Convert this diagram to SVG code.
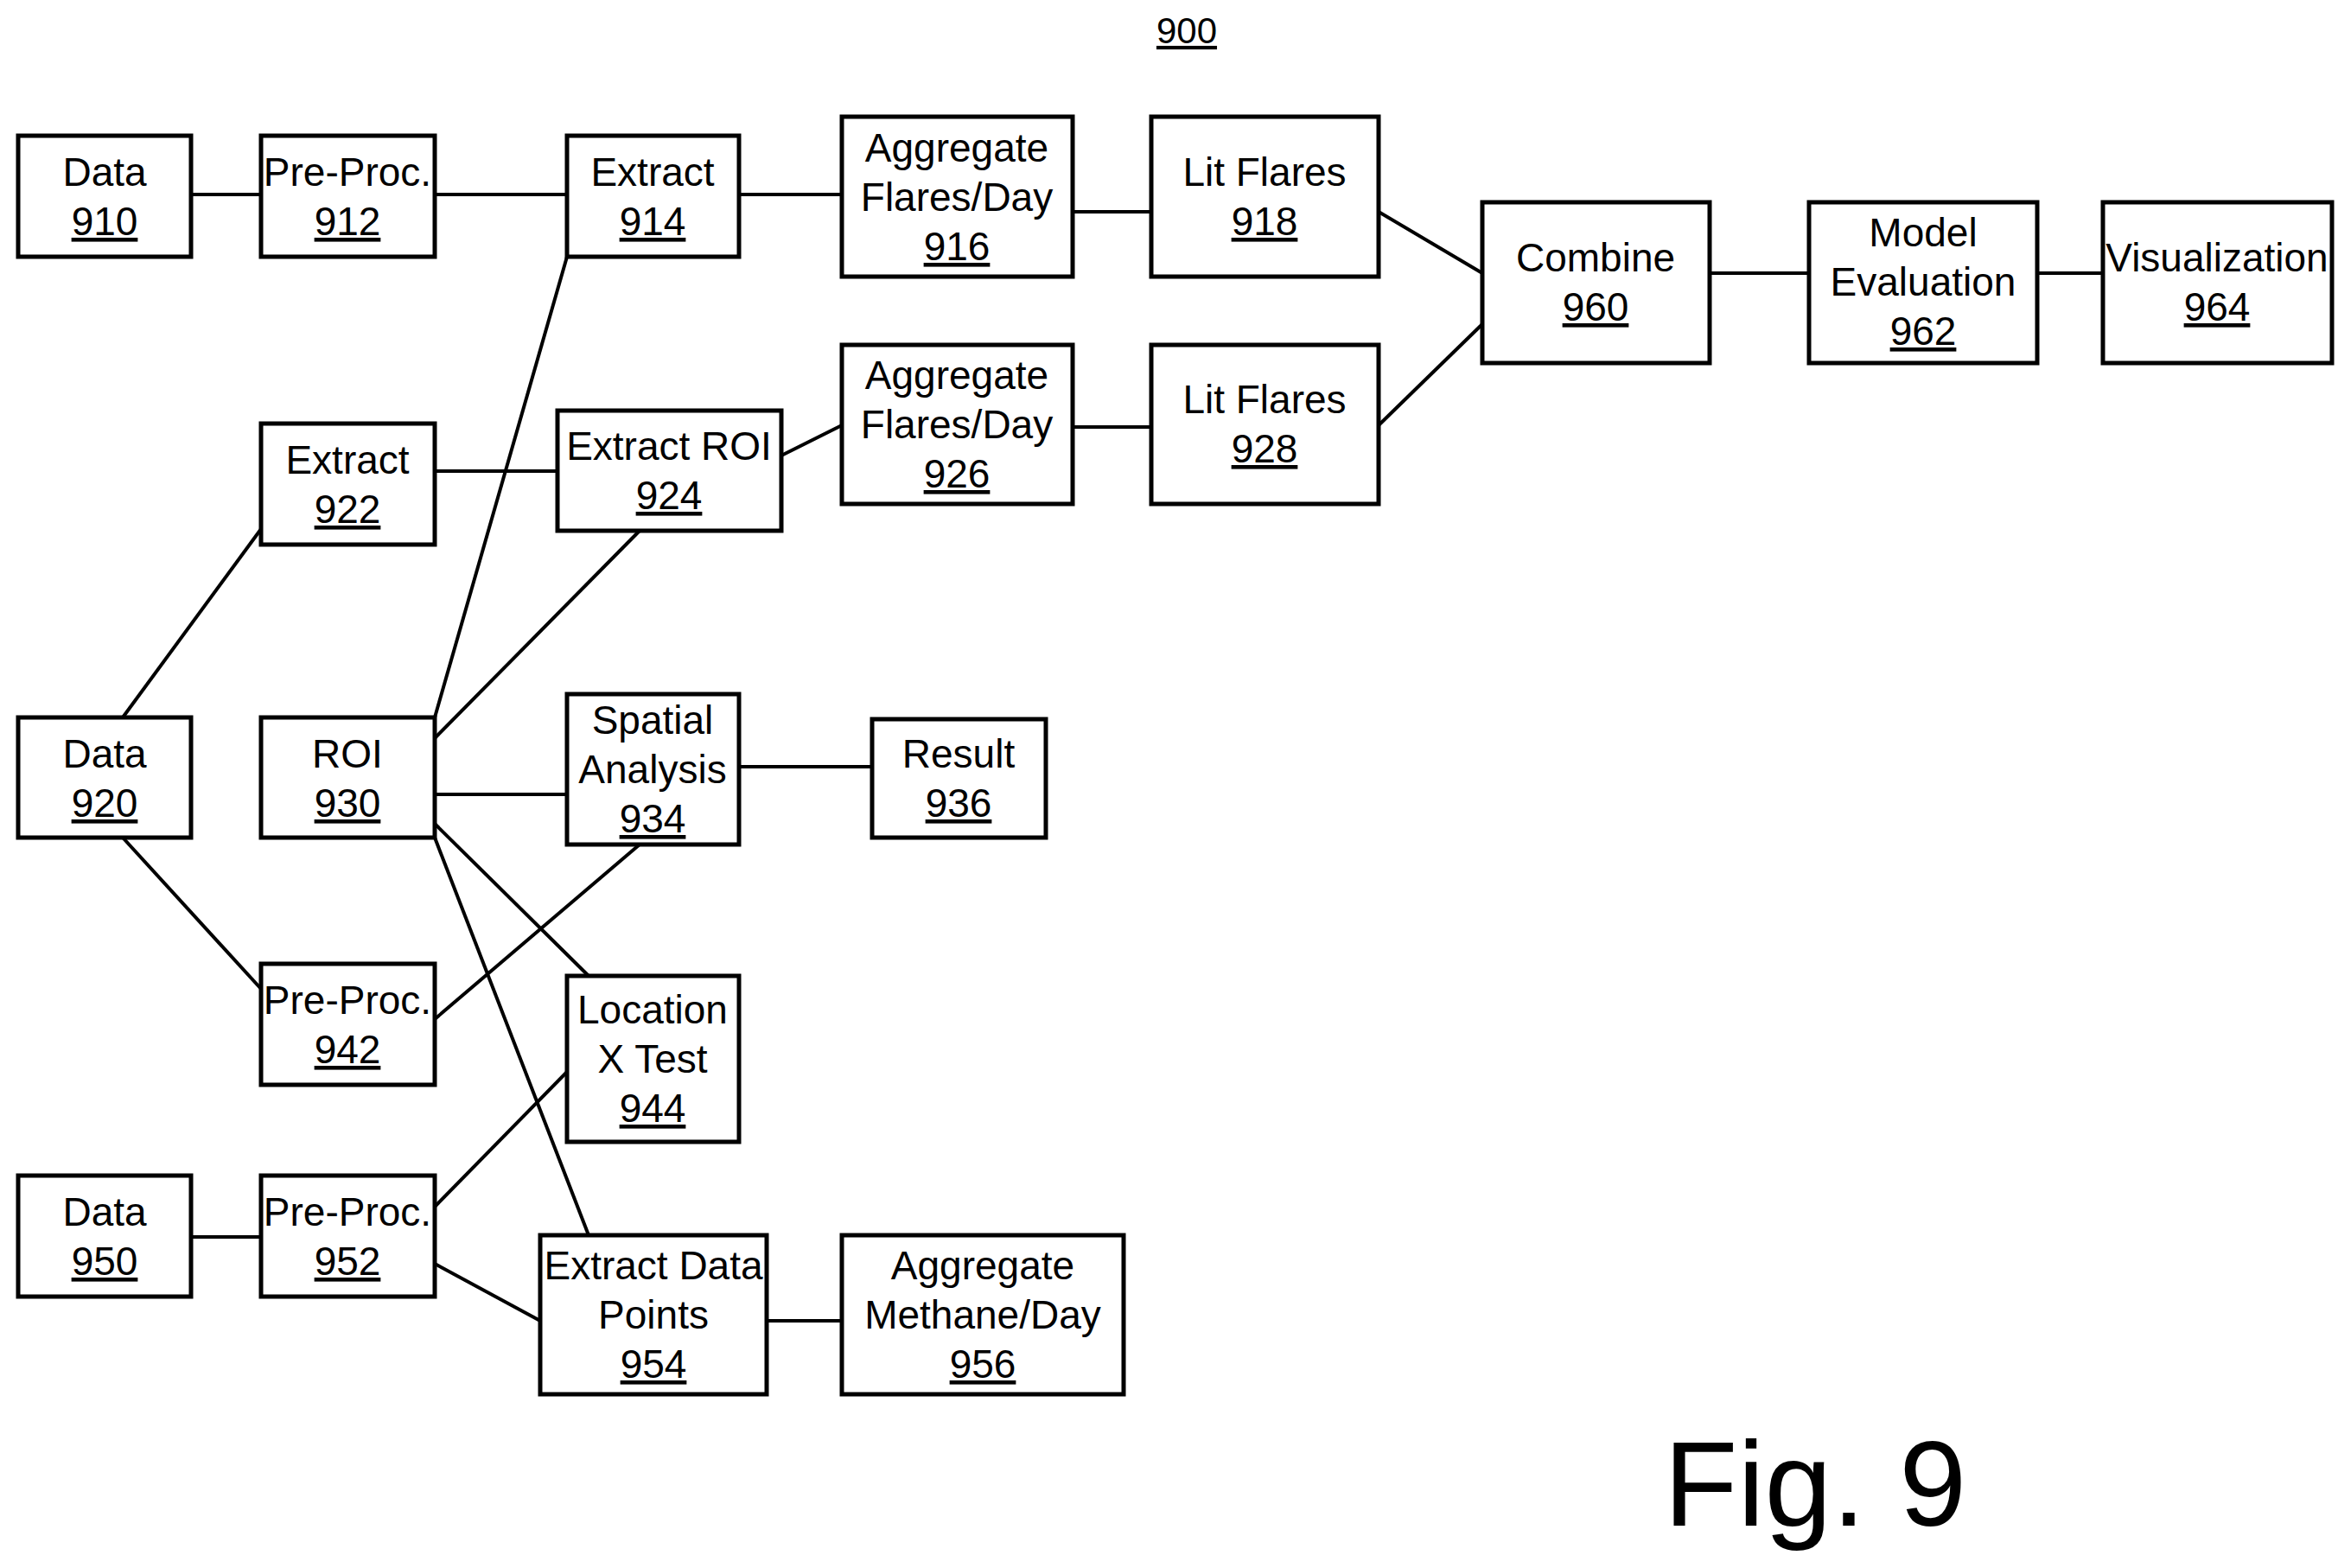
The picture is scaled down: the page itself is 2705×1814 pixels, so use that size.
<svg xmlns="http://www.w3.org/2000/svg" width="2705" height="1814" viewBox="0 0 2705 1814">
<style>
rect{fill:#fff;stroke:#000;stroke-width:5}
line{stroke:#000;stroke-width:4}
text{font-family:"Liberation Sans Narrow","Liberation Sans",Arial,sans-serif;font-size:46px;text-anchor:middle;fill:#000}
.n{text-decoration:underline}
</style>
<rect x="0" y="0" width="2705" height="1814" style="stroke:none"/>
<text x="1373" y="50" class="n" style="font-size:42px">900</text>
<text x="2100" y="1765" style="font-family:'Liberation Sans',Arial,sans-serif;font-size:140px">Fig. 9</text>
<g id="connectors">
<line x1="221" y1="225" x2="302" y2="225"/>
<line x1="503" y1="225" x2="656" y2="225"/>
<line x1="855" y1="225" x2="974" y2="225"/>
<line x1="1241" y1="245" x2="1332" y2="245"/>
<line x1="1595" y1="245" x2="1715" y2="316"/>
<line x1="1595" y1="492" x2="1715" y2="375"/>
<line x1="1978" y1="316" x2="2093" y2="316"/>
<line x1="2357" y1="316" x2="2433" y2="316"/>
<line x1="503" y1="545" x2="645" y2="545"/>
<line x1="904" y1="527" x2="974" y2="492"/>
<line x1="1241" y1="494" x2="1332" y2="494"/>
<line x1="142" y1="830" x2="302" y2="612"/>
<line x1="503" y1="830" x2="656" y2="297"/>
<line x1="503" y1="854" x2="740" y2="614"/>
<line x1="503" y1="919" x2="656" y2="919"/>
<line x1="855" y1="887" x2="1009" y2="887"/>
<line x1="503" y1="953" x2="681" y2="1129"/>
<line x1="503" y1="969" x2="681" y2="1429"/>
<line x1="142" y1="969" x2="302" y2="1144"/>
<line x1="503" y1="1179" x2="740" y2="977"/>
<line x1="503" y1="1396" x2="656" y2="1240"/>
<line x1="503" y1="1462" x2="625" y2="1528"/>
<line x1="221" y1="1431" x2="302" y2="1431"/>
<line x1="887" y1="1528" x2="974" y2="1528"/>
</g>
<g id="n910"><rect x="21" y="157" width="200" height="140"/><text x="121" y="215">Data</text><text x="121" y="272" class="n">910</text></g>
<g id="n912"><rect x="302" y="157" width="201" height="140"/><text x="402" y="215">Pre-Proc.</text><text x="402" y="272" class="n">912</text></g>
<g id="n914"><rect x="656" y="157" width="199" height="140"/><text x="755" y="215">Extract</text><text x="755" y="272" class="n">914</text></g>
<g id="n916"><rect x="974" y="135" width="267" height="185"/><text x="1107" y="187">Aggregate</text><text x="1107" y="244">Flares/Day</text><text x="1107" y="301" class="n">916</text></g>
<g id="n918"><rect x="1332" y="135" width="263" height="185"/><text x="1463" y="215">Lit Flares</text><text x="1463" y="272" class="n">918</text></g>
<g id="n960"><rect x="1715" y="234" width="263" height="186"/><text x="1846" y="314">Combine</text><text x="1846" y="371" class="n">960</text></g>
<g id="n962"><rect x="2093" y="234" width="264" height="186"/><text x="2225" y="285">Model</text><text x="2225" y="342">Evaluation</text><text x="2225" y="399" class="n">962</text></g>
<g id="n964"><rect x="2433" y="234" width="265" height="186"/><text x="2565" y="314">Visualization</text><text x="2565" y="371" class="n">964</text></g>
<g id="n922"><rect x="302" y="490" width="201" height="140"/><text x="402" y="548">Extract</text><text x="402" y="605" class="n">922</text></g>
<g id="n924"><rect x="645" y="475" width="259" height="139"/><text x="774" y="532">Extract ROI</text><text x="774" y="589" class="n">924</text></g>
<g id="n926"><rect x="974" y="399" width="267" height="184"/><text x="1107" y="450">Aggregate</text><text x="1107" y="507">Flares/Day</text><text x="1107" y="564" class="n">926</text></g>
<g id="n928"><rect x="1332" y="399" width="263" height="184"/><text x="1463" y="478">Lit Flares</text><text x="1463" y="535" class="n">928</text></g>
<g id="n920"><rect x="21" y="830" width="200" height="139"/><text x="121" y="888">Data</text><text x="121" y="945" class="n">920</text></g>
<g id="n930"><rect x="302" y="830" width="201" height="139"/><text x="402" y="888">ROI</text><text x="402" y="945" class="n">930</text></g>
<g id="n934"><rect x="656" y="803" width="199" height="174"/><text x="755" y="849">Spatial</text><text x="755" y="906">Analysis</text><text x="755" y="963" class="n">934</text></g>
<g id="n936"><rect x="1009" y="832" width="201" height="137"/><text x="1109" y="888">Result</text><text x="1109" y="945" class="n">936</text></g>
<g id="n942"><rect x="302" y="1115" width="201" height="140"/><text x="402" y="1173">Pre-Proc.</text><text x="402" y="1230" class="n">942</text></g>
<g id="n944"><rect x="656" y="1129" width="199" height="192"/><text x="755" y="1184">Location</text><text x="755" y="1241">X Test</text><text x="755" y="1298" class="n">944</text></g>
<g id="n950"><rect x="21" y="1360" width="200" height="140"/><text x="121" y="1418">Data</text><text x="121" y="1475" class="n">950</text></g>
<g id="n952"><rect x="302" y="1360" width="201" height="140"/><text x="402" y="1418">Pre-Proc.</text><text x="402" y="1475" class="n">952</text></g>
<g id="n954"><rect x="625" y="1429" width="262" height="184"/><text x="756" y="1480">Extract Data</text><text x="756" y="1537">Points</text><text x="756" y="1594" class="n">954</text></g>
<g id="n956"><rect x="974" y="1429" width="326" height="184"/><text x="1137" y="1480">Aggregate</text><text x="1137" y="1537">Methane/Day</text><text x="1137" y="1594" class="n">956</text></g>
</svg>
